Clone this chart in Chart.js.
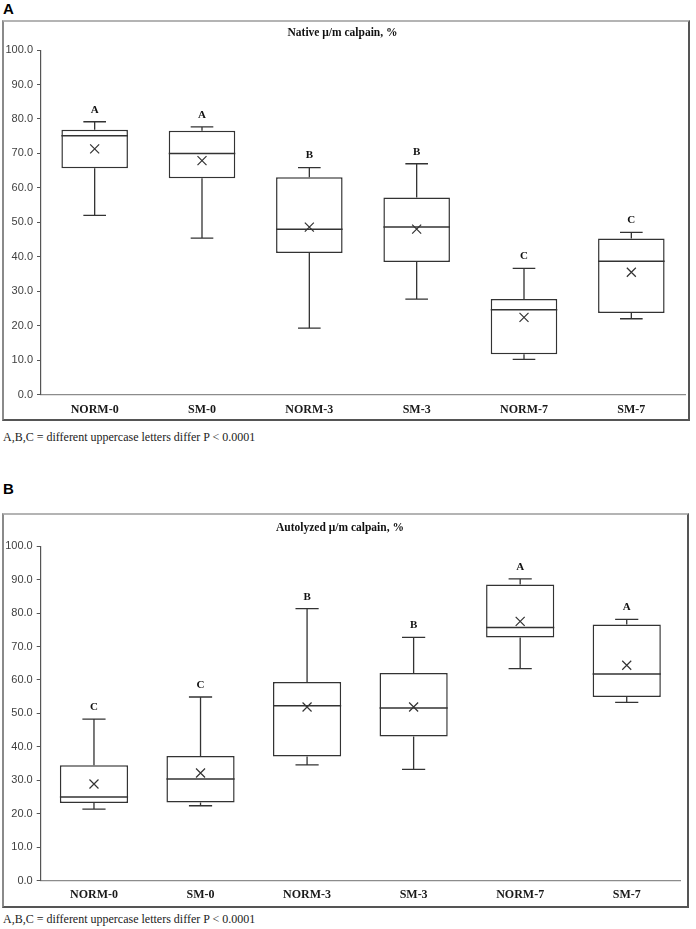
<!DOCTYPE html>
<html>
<head>
<meta charset="utf-8">
<script src="https://cdn.jsdelivr.net/npm/chart.js@4.4.0/dist/chart.umd.min.js"></script>
<style>
  body { margin: 0; background: #fff; width: 696px; height: 929px; position: relative; overflow: hidden; }
  .panel-label { position: absolute; left: 3px; font: bold 15px "Liberation Sans", Arial, sans-serif; color: #000; }
  .frame { position: absolute; box-sizing: border-box; border-top: 2px solid #b4b4b4; border-left: 2px solid #8a8a8a;
           border-right: 2px solid #555; border-bottom: 2px solid #555; pointer-events: none; }
  .note { position: absolute; left: 3px; font: 12px "Liberation Serif", "Times New Roman", serif; color: #222; }
  canvas { position: absolute; left: 0; }
</style>
</head>
<body>
<div class="panel-label" style="top:0px;">A</div>
<div class="frame" style="left:2px; top:20px; width:688px; height:401px;"></div>
<canvas id="chartA" width="696" height="400" style="top:20px;"></canvas>
<div class="note" style="top:430px;">A,B,C = different uppercase letters differ P &lt; 0.0001</div>

<div class="panel-label" style="top:480px;">B</div>
<div class="frame" style="left:2px; top:513px; width:687px; height:395px;"></div>
<canvas id="chartB" width="696" height="394" style="top:513px;"></canvas>
<div class="note" style="top:912px;">A,B,C = different uppercase letters differ P &lt; 0.0001</div>

<script>
const categories = ['NORM-0', 'SM-0', 'NORM-3', 'SM-3', 'NORM-7', 'SM-7'];
const yTickValues = [0, 10, 20, 30, 40, 50, 60, 70, 80, 90, 100];

// Panel A - native calpain
const nativeMin = [52.0, 45.4, 19.3, 27.7, 10.2, 22.0];
const nativeQ1 = [65.7, 62.8, 41.1, 38.5, 11.7, 23.7];
const nativeMedian = [75.1, 70.0, 48.0, 48.6, 24.6, 38.7];
const nativeQ3 = [76.9, 76.6, 63.1, 57.2, 27.7, 45.3];
const nativeMax = [79.2, 77.7, 65.9, 67.0, 36.6, 47.1];
const nativeMean = [71.3, 67.9, 48.6, 48.0, 22.4, 35.5];
const nativeLetters = ['A', 'A', 'B', 'B', 'C', 'C'];

// Panel B - autolyzed calpain
const autoMin = [21.4, 22.4, 34.6, 33.3, 63.4, 53.3];
const autoQ1 = [23.2, 23.4, 37.1, 43.1, 72.7, 54.9];
const autoMedian = [25.0, 30.4, 52.3, 51.6, 75.7, 61.8];
const autoQ3 = [34.5, 37.3, 59.4, 62.1, 88.5, 76.6];
const autoMax = [48.3, 54.9, 81.3, 72.7, 90.2, 78.1];
const autoMean = [28.9, 32.2, 51.9, 51.9, 77.5, 64.4];
const autoLetters = ['C', 'C', 'B', 'B', 'A', 'A'];

const LINE = '#333';

// whiskers, median, mean marker and letters on top of the floating bars
const boxExtras = {
  id: 'boxExtras',
  afterDatasetsDraw(chart, args, opts) {
    const { ctx, scales: { y } } = chart;
    const meta = chart.getDatasetMeta(0);
    ctx.save();
    ctx.strokeStyle = LINE;
    ctx.lineWidth = 1.3;
    meta.data.forEach((bar, i) => {
      const cx = bar.x;
      const half = bar.width / 2;
      const cap = half * 0.34;
      const yMin = y.getPixelForValue(opts.min[i]);
      const yMax = y.getPixelForValue(opts.max[i]);
      const yQ1 = y.getPixelForValue(opts.q1[i]);
      const yQ3 = y.getPixelForValue(opts.q3[i]);
      const yMed = y.getPixelForValue(opts.median[i]);
      const yMean = y.getPixelForValue(opts.mean[i]);

      ctx.beginPath();
      ctx.moveTo(cx, yQ3); ctx.lineTo(cx, yMax);
      ctx.moveTo(cx - cap, yMax); ctx.lineTo(cx + cap, yMax);
      ctx.moveTo(cx, yQ1); ctx.lineTo(cx, yMin);
      ctx.moveTo(cx - cap, yMin); ctx.lineTo(cx + cap, yMin);
      ctx.stroke();

      ctx.beginPath();
      ctx.lineWidth = 1.5;
      ctx.moveTo(cx - half, yMed); ctx.lineTo(cx + half, yMed);
      ctx.stroke();

      ctx.beginPath();
      ctx.lineWidth = 1.2;
      const s = 4.5;
      ctx.moveTo(cx - s, yMean - s); ctx.lineTo(cx + s, yMean + s);
      ctx.moveTo(cx - s, yMean + s); ctx.lineTo(cx + s, yMean - s);
      ctx.stroke();
      ctx.lineWidth = 1.3;

      ctx.fillStyle = '#111';
      ctx.font = 'bold 11px "Liberation Serif", "Times New Roman", serif';
      ctx.textAlign = 'center';
      ctx.textBaseline = 'middle';
      ctx.fillText(opts.letters[i], cx, yMax - 12);
    });
    ctx.restore();
  }
};

function makeBoxChart(id, title, stats, geom) {
  return new Chart(document.getElementById(id), {
    type: 'bar',
    data: {
      labels: categories,
      datasets: [{
        data: stats.q1.map((v, i) => [v, stats.q3[i]]),
        backgroundColor: '#fff',
        borderColor: LINE,
        borderWidth: 1.5,
        borderSkipped: false,
        barPercentage: geom.barPct,
        categoryPercentage: 1
      }]
    },
    options: {
      responsive: false,
      animation: false,
      layout: { padding: { left: 0, right: geom.padRight, top: 0, bottom: 0 } },
      plugins: {
        legend: { display: false },
        tooltip: { enabled: false },
        title: {
          display: true,
          text: title,
          color: '#111',
          font: { family: '"Liberation Serif", "Times New Roman", serif', size: 11.5, weight: 'bold' },
          padding: { top: geom.titleTop, bottom: geom.titleBottom }
        },
        boxExtras: stats
      },
      scales: {
        x: {
          grid: { display: false, drawTicks: false },
          border: { display: true, color: '#8c8c8c', width: 1.3 },
          ticks: {
            color: '#1a1a1a',
            padding: geom.xPad,
            font: { family: '"Liberation Serif", "Times New Roman", serif', size: 12, weight: 'bold' }
          },
          afterFit: (scale) => { scale.height = geom.xHeight; }
        },
        y: {
          min: 0,
          max: 100,
          afterBuildTicks: (scale) => { scale.ticks = yTickValues.map(v => ({ value: v })); },
          grid: { drawOnChartArea: false, drawTicks: true, tickLength: 4, color: '#555' },
          border: { display: true, color: '#555', width: 1.2 },
          ticks: {
            color: '#404040',
            padding: 4,
            font: { family: '"Liberation Sans", Arial, sans-serif', size: 11 },
            callback: (v) => Number(v).toFixed(1)
          },
          afterFit: (scale) => { scale.width = geom.yWidth; }
        }
      }
    },
    plugins: [boxExtras]
  });
}

makeBoxChart('chartA', 'Native \u03bc/m calpain, %', {
  min: nativeMin, q1: nativeQ1, median: nativeMedian, q3: nativeQ3,
  max: nativeMax, mean: nativeMean, letters: nativeLetters
}, { barPct: 0.62, padRight: 11, titleTop: 6, titleBottom: 10.3, xHeight: 25.5, xPad: 8, yWidth: 41 });

makeBoxChart('chartB', 'Autolyzed \u03bc/m calpain, %', {
  min: autoMin, q1: autoQ1, median: autoMedian, q3: autoQ3,
  max: autoMax, mean: autoMean, letters: autoLetters
}, { barPct: 0.64, padRight: 16, titleTop: 8, titleBottom: 11.3, xHeight: 26.3, xPad: 7.5, yWidth: 40.7 });
</script>
</body>
</html>
